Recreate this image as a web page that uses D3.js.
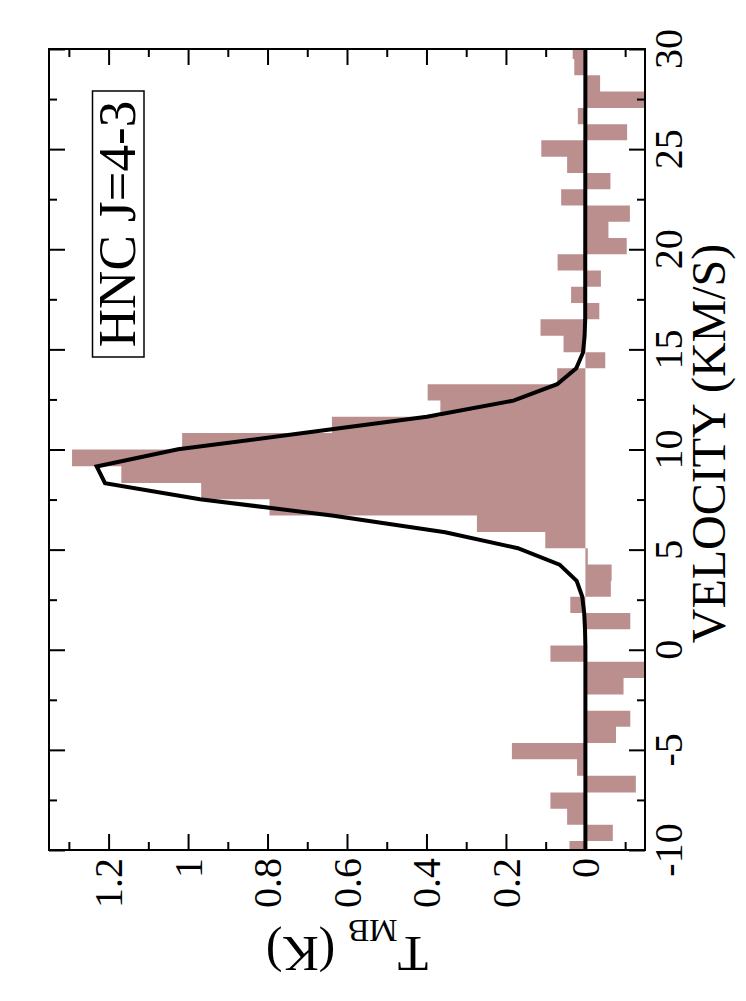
<!DOCTYPE html>
<html>
<head>
<meta charset="utf-8">
<script src="https://cdn.jsdelivr.net/npm/d3@7"></script>
<style>
  body { margin: 0; background: #fff; }
  svg { display: block; }
</style>
</head>
<body>
<svg id="chart" width="746" height="1001"></svg>
<script>

// spectrum channels (km/s) and measured T_MB (K)
const channelVel = [-9.95, -9.14, -8.34, -7.54, -6.71, -5.88, -5.06, -4.25, -3.44, -2.64,
  -1.82, -1.01, -0.19, 0.62, 1.43, 2.25, 3.05, 3.85, 4.66, 5.47,
  6.29, 7.11, 7.92, 8.74, 9.58, 10.41, 11.23, 12.04, 12.85, 13.66,
  14.45, 15.26, 16.09, 16.91, 17.72, 18.53, 19.34, 20.15, 20.97, 21.78,
  22.59, 23.40, 24.21, 25.04, 25.85, 26.64, 27.46, 28.29, 29.10, 29.90]

const channelT = [0.040, -0.069, 0.046, 0.088, -0.127, 0.021, 0.185, -0.077, -0.113, -0.004,
  -0.096, -0.160, 0.088, 0.004, -0.113, 0.038, -0.064, -0.066, -0.006, 0.101,
  0.273, 0.795, 0.967, 1.168, 1.292, 1.015, 0.638, 0.365, 0.397, 0.071,
  -0.050, 0.055, 0.113, -0.035, 0.036, -0.039, 0.070, -0.104, -0.058, -0.112,
  0.061, -0.063, 0.046, 0.111, -0.105, 0.019, -0.160, -0.037, 0.028, 0.032]

// gaussian fit
const fitVel = [-10.35, 0.21, 1.03, 1.83, 2.66, 3.44, 4.25, 5.07, 5.87, 6.70, 7.52, 8.32,
  9.15, 10.01, 10.81, 11.64, 12.44, 13.26, 14.06, 14.84, 15.67, 16.51, 30.3]
const fitT = [0, 0, 0.001, 0.003, 0.008, 0.022, 0.065, 0.170, 0.353, 0.638, 0.970, 1.209,
  1.230, 1.025, 0.715, 0.399, 0.181, 0.071, 0.023, 0.006, 0.002, 0.0005, 0]

const tMajor = [0, 0.2, 0.4, 0.6, 0.8, 1, 1.2]
const tMinor = [-0.1, 0.1, 0.3, 0.5, 0.7, 0.9, 1.1, 1.3]
const tLabels = ['0', '0.2', '0.4', '0.6', '0.8', '1', '1.2']

const vMajor = [-10, -5, 0, 5, 10, 15, 20, 25, 30]
const vMinor = [-7.5, -2.5, 2.5, 7.5, 12.5, 17.5, 22.5, 27.5]
const vLabels = ['-10', '-5', '0', '5', '10', '15', '20', '25', '30']

const lineLabel = 'HNC J=4-3'

const serif = '"Liberation Serif", "Times New Roman", "DejaVu Serif", serif'

const frame = { left: 49, right: 645, top: 49, bottom: 850 }

let svg = d3.select('#chart')

// the plot is drawn turned on its side: velocity runs up, T_MB runs left
let xT = d3.scaleLinear()
.domain([-0.15, 1.35])
.range([frame.right, frame.left])

let yV = d3.scaleLinear()
.domain([-10, 30])
.range([frame.bottom, frame.top])

svg.append('clipPath')
.attr('id', 'plotclip')
.append('rect')
.attr('x', frame.left)
.attr('y', frame.top)
.attr('width', frame.right - frame.left)
.attr('height', frame.bottom - frame.top)

let plot = svg.append('g')
.attr('clip-path', 'url(#plotclip)')

// channel edges halfway between centres
let edges = channelVel.map((v, i) => i == 0 ? v - (channelVel[1] - v) / 2 : (channelVel[i - 1] + v) / 2)
let n = channelVel.length
edges.push(channelVel[n - 1] + (channelVel[n - 1] - channelVel[n - 2]) / 2)

let p = d3.path()
channelT.map((t, i) => {
	let y0 = yV(edges[i + 1])
	let y1 = yV(edges[i])
	let x0 = xT(0)
	let x1 = xT(t)
	p.moveTo(x0, y0)
	p.lineTo(x1, y0)
	p.lineTo(x1, y1)
	p.lineTo(x0, y1)
	p.closePath()
})

plot.append('path')
.attr('d', p.toString())
.attr('fill', '#bc8f8f')

let fitLine = d3.line()
.x(d => xT(d[1]))
.y(d => yV(d[0]))

plot.append('path')
.datum(fitVel.map((v, i) => [v, fitT[i]]))
.attr('d', fitLine)
.attr('fill', 'none')
.attr('stroke', '#000')
.attr('stroke-width', 4)
.attr('stroke-linejoin', 'miter')

// ticks on all four sides
const tickAxis = (axis, values, size, tx, ty) => {
	let g = svg.append('g')
	.attr('transform', `translate(${tx},${ty})`)
	.call(axis.tickValues(values).tickSize(size).tickFormat(''))
	g.select('.domain').remove()
	g.selectAll('line').attr('stroke', '#000').attr('stroke-width', 2)
	return g
}

tickAxis(d3.axisBottom(xT), tMajor, -16, 0, frame.bottom)
tickAxis(d3.axisBottom(xT), tMinor, -8, 0, frame.bottom)
tickAxis(d3.axisTop(xT), tMajor, -16, 0, frame.top)
tickAxis(d3.axisTop(xT), tMinor, -8, 0, frame.top)
tickAxis(d3.axisRight(yV), vMajor, -16, frame.right, 0)
tickAxis(d3.axisRight(yV), vMinor, -8, frame.right, 0)
tickAxis(d3.axisLeft(yV), vMajor, -16, frame.left, 0)
tickAxis(d3.axisLeft(yV), vMinor, -8, frame.left, 0)

svg.append('rect')
.attr('x', frame.left)
.attr('y', frame.top)
.attr('width', frame.right - frame.left)
.attr('height', frame.bottom - frame.top)
.attr('fill', 'none')
.attr('stroke', '#000')
.attr('stroke-width', 2)

// tick labels, turned to read bottom-up
svg.append('g')
.selectAll('text')
.data(tMajor)
.join('text')
.attr('transform', d => `translate(${xT(d)},${frame.bottom + 8}) rotate(-90)`)
.attr('dy', '0.34em')
.attr('text-anchor', 'end')
.attr('font-family', serif)
.attr('font-size', 40)
.text((d, i) => tLabels[i])

svg.append('g')
.selectAll('text')
.data(vMajor)
.join('text')
.attr('transform', d => `translate(${frame.right + 37},${yV(d)}) rotate(-90)`)
.attr('text-anchor', 'middle')
.attr('font-family', serif)
.attr('font-size', 40)
.text((d, i) => vLabels[i])

// axis titles
svg.append('text')
.attr('transform', `translate(${frame.right + 80},${(frame.top + frame.bottom) / 2 - 6}) rotate(-90)`)
.attr('text-anchor', 'middle')
.attr('font-family', serif)
.attr('font-size', 48)
.text('VELOCITY (KM/S)')

let yTitle = svg.append('text')
.attr('transform', `translate(${(frame.left + frame.right) / 2},937) rotate(180)`)
.attr('text-anchor', 'middle')
.attr('font-family', serif)
.attr('font-size', 50)

yTitle.append('tspan').text('T')
yTitle.append('tspan').attr('font-size', 32).attr('dy', 17).text('MB')
yTitle.append('tspan').attr('dy', -17).text(' (K)')

// line label in its box
svg.append('rect')
.attr('x', 92.5)
.attr('y', 91)
.attr('width', 51.5)
.attr('height', 266)
.attr('fill', '#fff')
.attr('stroke', '#000')
.attr('stroke-width', 1.5)

svg.append('text')
.attr('transform', 'translate(135,224) rotate(-90)')
.attr('text-anchor', 'middle')
.attr('font-family', serif)
.attr('font-size', 53)
.text(lineLabel)

</script>
</body>
</html>
